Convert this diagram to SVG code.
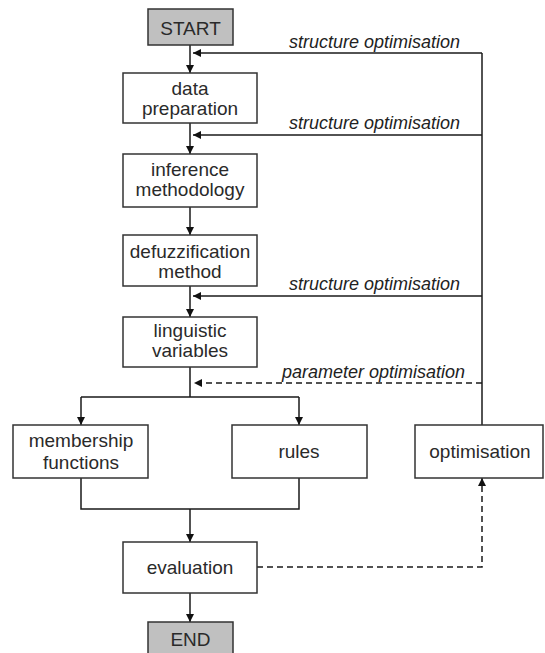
<svg xmlns="http://www.w3.org/2000/svg" width="545" height="653" viewBox="0 0 545 653">
<defs>
<style>
.box{fill:#fff;stroke:#333;stroke-width:1.5}
.term{fill:#c0c0c0;stroke:#333;stroke-width:1.5}
.t{font-family:"Liberation Sans",Arial,sans-serif;font-size:19px;fill:#2a2a2a;text-anchor:middle}
.lbl{font-family:"Liberation Sans",Arial,sans-serif;font-size:18px;font-style:italic;fill:#222;text-anchor:end}
.ln{fill:none;stroke:#1a1a1a;stroke-width:1.5}
.dash{fill:none;stroke:#1a1a1a;stroke-width:1.5;stroke-dasharray:6 4}
</style>
<marker id="ah" viewBox="0 0 10 10" refX="10" refY="5" markerWidth="9" markerHeight="8" markerUnits="userSpaceOnUse" orient="auto">
<path d="M0,0 L10,5 L0,10 z" fill="#111"/>
</marker>
</defs>
<g id="connectors">
<path class="ln" d="M190,45 V73" marker-end="url(#ah)"/>
<path class="ln" d="M190,123 V154" marker-end="url(#ah)"/>
<path class="ln" d="M190,207 V235" marker-end="url(#ah)"/>
<path class="ln" d="M190,286 V317" marker-end="url(#ah)"/>
<path class="ln" d="M190,367 V397 M81,397 H299"/>
<path class="ln" d="M81,397 V425" marker-end="url(#ah)"/>
<path class="ln" d="M299,397 V425" marker-end="url(#ah)"/>
<path class="ln" d="M81,478 V509 H299 V478"/>
<path class="ln" d="M190,509 V542" marker-end="url(#ah)"/>
<path class="ln" d="M190,593 V622" marker-end="url(#ah)"/>
<path class="ln" d="M482,425 V53"/>
<path class="ln" d="M482,53 H193" marker-end="url(#ah)"/>
<path class="ln" d="M482,135 H193" marker-end="url(#ah)"/>
<path class="ln" d="M482,296 H193" marker-end="url(#ah)"/>
<path class="dash" d="M482,383 H194" marker-end="url(#ah)"/>
<path class="dash" d="M257,567 H482 V478" marker-end="url(#ah)"/>
<text class="lbl" x="460" y="48">structure optimisation</text>
<text class="lbl" x="460" y="129">structure optimisation</text>
<text class="lbl" x="460" y="290">structure optimisation</text>
<text class="lbl" x="465" y="378">parameter optimisation</text>
</g>
<g id="start"><rect class="term" x="148" y="9" width="85" height="36"/><text class="t" x="190.5" y="35">START</text></g>
<g id="data-preparation"><rect class="box" x="123" y="73" width="134" height="50"/><text class="t" x="190" y="95">data</text><text class="t" x="190" y="115">preparation</text></g>
<g id="inference-methodology"><rect class="box" x="123" y="154" width="134" height="53"/><text class="t" x="190" y="176">inference</text><text class="t" x="190" y="196">methodology</text></g>
<g id="defuzzification-method"><rect class="box" x="123" y="235" width="134" height="51"/><text class="t" x="190" y="258">defuzzification</text><text class="t" x="190" y="278">method</text></g>
<g id="linguistic-variables"><rect class="box" x="123" y="317" width="134" height="50"/><text class="t" x="190" y="337">linguistic</text><text class="t" x="190" y="357">variables</text></g>
<g id="membership-functions"><rect class="box" x="13" y="425" width="135" height="53"/><text class="t" x="81" y="447">membership</text><text class="t" x="81" y="469">functions</text></g>
<g id="rules"><rect class="box" x="232" y="425" width="135" height="53"/><text class="t" x="299" y="458">rules</text></g>
<g id="optimisation"><rect class="box" x="415" y="425" width="128" height="53"/><text class="t" x="480" y="458">optimisation</text></g>
<g id="evaluation"><rect class="box" x="123" y="542" width="134" height="51"/><text class="t" x="190" y="574">evaluation</text></g>
<g id="end"><rect class="term" x="148" y="622" width="85" height="40"/><text class="t" x="190.5" y="646">END</text></g>
</svg>
